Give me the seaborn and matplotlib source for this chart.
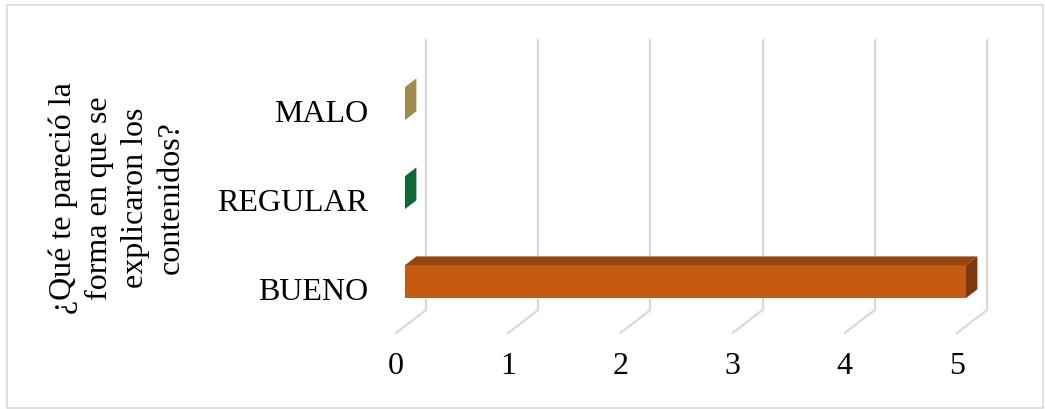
import matplotlib
matplotlib.use("Agg")
import matplotlib.pyplot as plt
import seaborn as sns
import pandas as pd
from matplotlib.transforms import ScaledTranslation, IdentityTransform
from matplotlib.patches import Polygon, Rectangle
from matplotlib.lines import Line2D

# Survey answers and counts
categories = ["MALO", "REGULAR", "BUENO"]
counts = [0, 0, 5]
x_ticks = [0, 1, 2, 3, 4, 5]
axis_title = "¿Qué te pareció la\nforma en que se\nexplicaron los\ncontenidos?"

# Face colours for the pseudo-3D bars (front, top, right side)
front_colors = ["#C4A55A", "#0E8040", "#C55A11"]
top_colors = ["#B09550", "#0C7038", "#96450F"]
side_colors = ["#A18B4B", "#0B6B35", "#7E390C"]
grid_color = "#D9D9D9"

W, H, DPI = 1045, 409, 100
sns.set_theme(style="white")
plt.rcParams["font.family"] = ["Liberation Serif", "DejaVu Serif"]

fig = plt.figure(figsize=(W / DPI, H / DPI), dpi=DPI)
ax = fig.add_axes([396 / W, 1 - 333 / H, 561 / W, 267 / H])

df = pd.DataFrame({"respuesta": categories, "n": counts})
sns.barplot(data=df, x="n", y="respuesta", hue="respuesta", order=categories,
            hue_order=categories, palette=front_colors, width=0.37,
            saturation=1, legend=False, orient="h", linewidth=0, ax=ax)

ax.set_xlim(0, 5)
ax.set_ylim(2.5, -0.5)
ax.set_autoscale_on(False)
ax.set_xticks(x_ticks)
ax.set_xlabel("")
for s in ax.spines.values():
    s.set_visible(False)
ax.tick_params(axis="y", length=0, pad=20, labelsize=23, colors="black")
ax.tick_params(axis="x", length=0, pad=14, labelsize=23, colors="black")
ax.set_ylabel(axis_title, fontsize=23, linespacing=1.32, rotation=90,
              va="center", ha="center", multialignment="center", color="black")
ax.yaxis.set_label_coords(-0.497, 0.506)

# depth offset: full depth shifts 30 px right and 23 px up
def depth(d):
    return ScaledTranslation(30 * d / DPI, 23 * d / DPI, fig.dpi_scale_trans)

front_tr = ax.transData + depth(0.3)
back_tr = ax.transData + depth(0.68)
wall_tr = ax.transData + depth(1.0)

# back wall gridlines and floor diagonals
for xv in x_ticks:
    ax.plot([xv, xv], [2.5, -0.53], transform=wall_tr, color=grid_color,
            lw=1.6, zorder=0, clip_on=False)
    p0 = ax.transData.transform((xv, 2.5))
    p1 = wall_tr.transform((xv, 2.5))
    ax.add_line(Line2D([p0[0], p1[0]], [p0[1], p1[1]], transform=IdentityTransform(),
                       color=grid_color, lw=1.6, zorder=0, clip_on=False))

# bars: shift front faces back, then add top and side faces
for patch, tc, sc in zip(ax.patches[:len(categories)], top_colors, side_colors):
    x0, y0 = patch.get_x(), patch.get_y()
    w, h = patch.get_width(), patch.get_height()
    patch.set_transform(front_tr)
    patch.set_clip_on(False)
    patch.set_zorder(3)
    x1 = x0 + w
    top = [front_tr.transform((x0, y0)), front_tr.transform((x1, y0)),
           back_tr.transform((x1, y0)), back_tr.transform((x0, y0))]
    side = [front_tr.transform((x1, y0)), front_tr.transform((x1, y0 + h)),
            back_tr.transform((x1, y0 + h)), back_tr.transform((x1, y0))]
    fig.add_artist(Polygon(top, closed=True, transform=IdentityTransform(),
                           facecolor=tc, edgecolor="none", zorder=3))
    fig.add_artist(Polygon(side, closed=True, transform=IdentityTransform(),
                           facecolor=sc, edgecolor="none", zorder=3))

# chart area border
fig.add_artist(Rectangle((7 / W, 1 - 408 / H), (1043 - 7) / W, (408 - 5) / H,
                         transform=fig.transFigure, fill=False,
                         edgecolor=grid_color, lw=1.2))

fig.savefig("out.png", dpi=DPI, facecolor="white")
